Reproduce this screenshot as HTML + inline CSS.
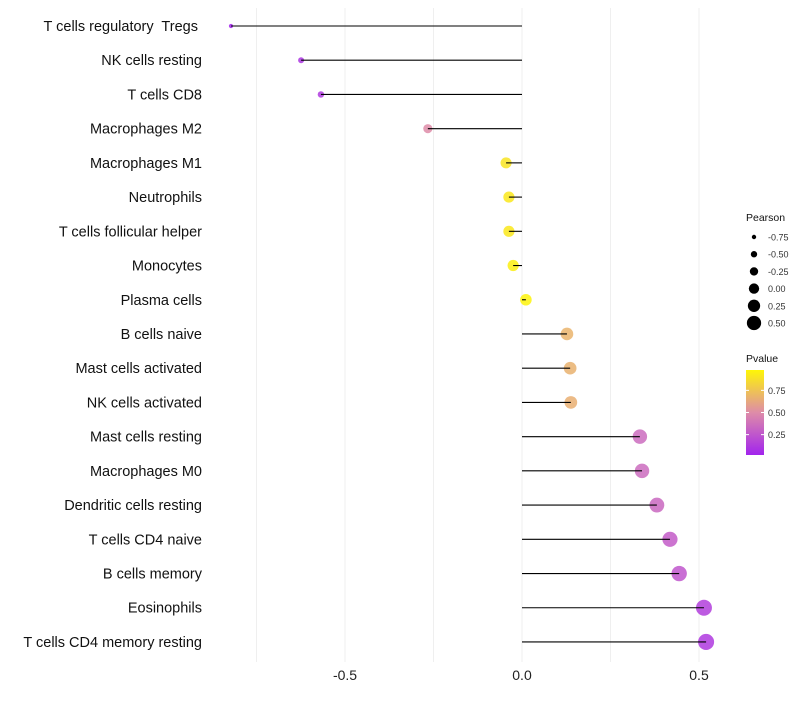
<!DOCTYPE html>
<html><head><meta charset="utf-8"><style>
body{margin:0;background:#fff;font-family:"Liberation Sans",sans-serif}
text{white-space:pre}
</style></head><body>
<svg id="c" width="800" height="700" xmlns="http://www.w3.org/2000/svg" font-family="Liberation Sans, sans-serif"></svg>
<script>
const categories=["T cells regulatory  Tregs ","NK cells resting","T cells CD8","Macrophages M2","Macrophages M1","Neutrophils","T cells follicular helper","Monocytes","Plasma cells","B cells naive","Mast cells activated","NK cells activated","Mast cells resting","Macrophages M0","Dendritic cells resting","T cells CD4 naive","B cells memory","Eosinophils","T cells CD4 memory resting"];
const pearson=[-0.822,-0.624,-0.568,-0.266,-0.045,-0.037,-0.037,-0.025,0.011,0.127,0.136,0.138,0.333,0.339,0.381,0.418,0.444,0.514,0.52];
const pvalue=[0.02,0.1,0.12,0.5,0.9,0.92,0.92,0.95,0.97,0.68,0.67,0.66,0.35,0.35,0.33,0.28,0.25,0.14,0.12];
const xTicks=[-0.5,0,0.5];
const xGrid=[-0.75,-0.5,-0.25,0,0.25,0.5];
const sizeLegend=[-0.75,-0.5,-0.25,0,0.25,0.5];
const colorLegend=[0.25,0.5,0.75];
const svg=document.getElementById('c');const NS="http://www.w3.org/2000/svg";
const X=v=>522+v*354;const Y=i=>26+i*34.22;
const R=v=>2+(v+0.85)*4.4;
function col(p){const a=[160,32,240],b=[222,140,168],c=[255,250,0];let s,e,t;if(p<0.5){s=a;e=b;t=p/0.5}else{s=b;e=c;t=(p-0.5)/0.5}return `rgb(${s.map((v,k)=>Math.round(v+(e[k]-v)*t)).join(',')})`}
function el(t,at,txt){const e=document.createElementNS(NS,t);for(const k in at)e.setAttribute(k,at[k]);if(txt!==undefined)e.textContent=txt;svg.appendChild(e);return e}
xGrid.forEach(v=>{const g=el('line',{x1:X(v),x2:X(v),y1:8,y2:662,stroke:'#efefef','stroke-width':1});

});
xTicks.forEach(v=>{const t=el('text',{x:X(v),y:680,'text-anchor':'middle','font-size':14,fill:'#222'},v===0?'0.0':v.toFixed(1));

});
categories.forEach((c,i)=>{
const l=el('text',{x:202,y:Y(i)+5,'text-anchor':'end','font-size':14.5,fill:'#111'},c);


const p=el('circle',{cx:X(pearson[i]),cy:Y(i),r:R(pearson[i]),fill:col(pvalue[i]),'fill-opacity':0.85});


const s=el('line',{x1:X(0),x2:X(pearson[i]),y1:Y(i),y2:Y(i),stroke:'#000','stroke-width':1.1});


});
const lt=el('text',{x:746,y:221,'font-size':10.5,fill:'#111'},'Pearson');


sizeLegend.forEach((v,i)=>{const y=237+i*17.2;
const c=el('circle',{cx:754,cy:y,r:R(v)*0.9,fill:'#000'});


const t=el('text',{x:768,y:y+3.5,'font-size':9,fill:'#333'},v.toFixed(2));

});
const ct=el('text',{x:746,y:362,'font-size':10.5,fill:'#111'},'Pvalue');


const defs=el('defs',{});const gr=document.createElementNS(NS,'linearGradient');gr.setAttribute('id','g');gr.setAttribute('x1',0);gr.setAttribute('x2',0);gr.setAttribute('y1',1);gr.setAttribute('y2',0);defs.appendChild(gr);
[0,0.25,0.5,0.75,1].forEach(o=>{const s=document.createElementNS(NS,'stop');s.setAttribute('offset',o);s.setAttribute('stop-color',col(0.02+o*0.96));gr.appendChild(s)});
const bar=el('rect',{x:746,y:370,width:18,height:85,fill:'url(#g)'});


colorLegend.forEach(v=>{const y=455-(v-0.02)/0.96*85;
el('line',{x1:746,x2:749,y1:y,y2:y,stroke:'#fff'});el('line',{x1:761,x2:764,y1:y,y2:y,stroke:'#fff'});
const t=el('text',{x:768,y:y+3.5,'font-size':9,fill:'#333'},v.toFixed(2));

});
</script>
</body></html>
